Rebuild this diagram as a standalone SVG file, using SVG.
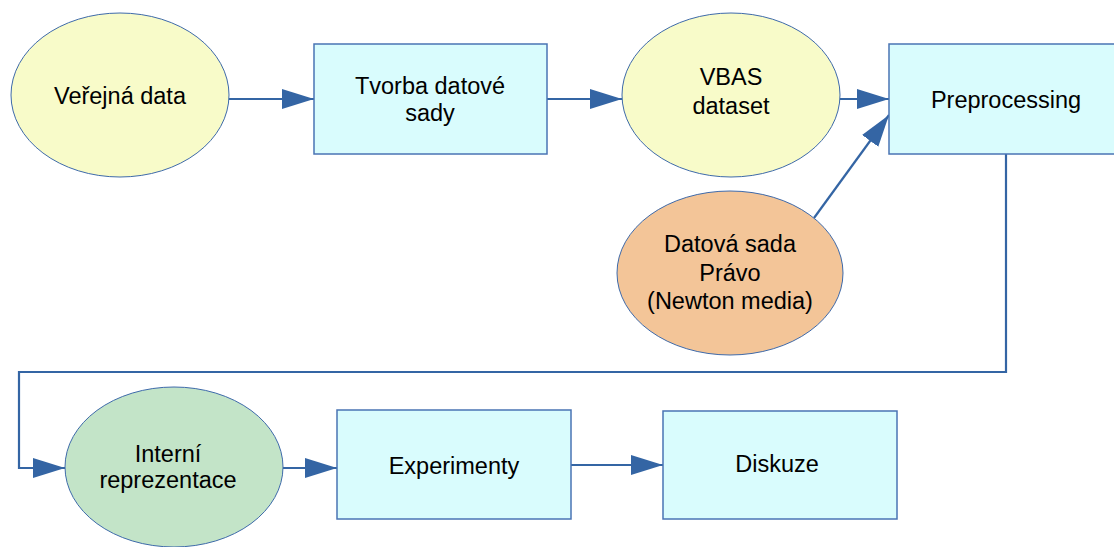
<svg xmlns="http://www.w3.org/2000/svg" width="1114" height="547" viewBox="0 0 1114 547">
<style>
.t{font-family:"Liberation Sans",Arial,sans-serif;font-size:23.5px;fill:#000;text-anchor:middle}
.box{fill:#d9fcfd;stroke:#4a74b4;stroke-width:1.5}
.ell{stroke:#3e6aaa;stroke-width:1}
.c{fill:none;stroke:#3465a4;stroke-width:2.2}
</style>
<defs>
<marker id="ah" markerUnits="userSpaceOnUse" markerWidth="33" markerHeight="22" refX="32" refY="10" orient="auto">
<path d="M0,0 L32,10 L0,20 z" fill="#3465a4"/>
</marker>
</defs>
<rect width="1114" height="547" fill="#fff"/>
<g id="connectors">
<line class="c" x1="229" y1="99" x2="314" y2="99" marker-end="url(#ah)"/>
<line class="c" x1="547" y1="99" x2="622" y2="99" marker-end="url(#ah)"/>
<line class="c" x1="840" y1="99" x2="889" y2="99" marker-end="url(#ah)"/>
<line class="c" x1="814" y1="218" x2="889" y2="115" marker-end="url(#ah)"/>
<polyline class="c" points="1006,154 1006,372 19,372 19,468 65,468" marker-end="url(#ah)"/>
<line class="c" x1="283" y1="468" x2="337" y2="468" marker-end="url(#ah)"/>
<line class="c" x1="571" y1="465" x2="663" y2="465" marker-end="url(#ah)"/>
</g>
<g id="verejna">
<ellipse class="ell" cx="120" cy="95" rx="109" ry="82" fill="#f8fbc9"/>
<text class="t" x="120" y="104">Veřejná data</text>
</g>
<g id="tvorba">
<rect class="box" x="314" y="44" width="233" height="110"/>
<text class="t" x="430" y="94">Tvorba datové</text>
<text class="t" x="430" y="121">sady</text>
</g>
<g id="vbas">
<ellipse class="ell" cx="731" cy="95" rx="109" ry="82" fill="#f8fbc9"/>
<text class="t" x="731" y="85">VBAS</text>
<text class="t" x="731" y="114">dataset</text>
</g>
<g id="preprocessing">
<rect class="box" x="889" y="44" width="226" height="110"/>
<text class="t" x="1006" y="108">Preprocessing</text>
</g>
<g id="pravo">
<ellipse class="ell" cx="730" cy="273" rx="113" ry="82" fill="#f3c598"/>
<text class="t" x="730" y="252">Datová sada</text>
<text class="t" x="730" y="281">Právo</text>
<text class="t" x="730" y="309">(Newton media)</text>
</g>
<g id="interni">
<ellipse class="ell" cx="174" cy="467" rx="109" ry="80" fill="#c3e4c8"/>
<text class="t" x="168" y="462">Interní</text>
<text class="t" x="168" y="488">reprezentace</text>
</g>
<g id="experimenty">
<rect class="box" x="337" y="410" width="234" height="109"/>
<text class="t" x="454" y="474">Experimenty</text>
</g>
<g id="diskuze">
<rect class="box" x="663" y="411" width="234" height="108"/>
<text class="t" x="777" y="472">Diskuze</text>
</g>
</svg>
